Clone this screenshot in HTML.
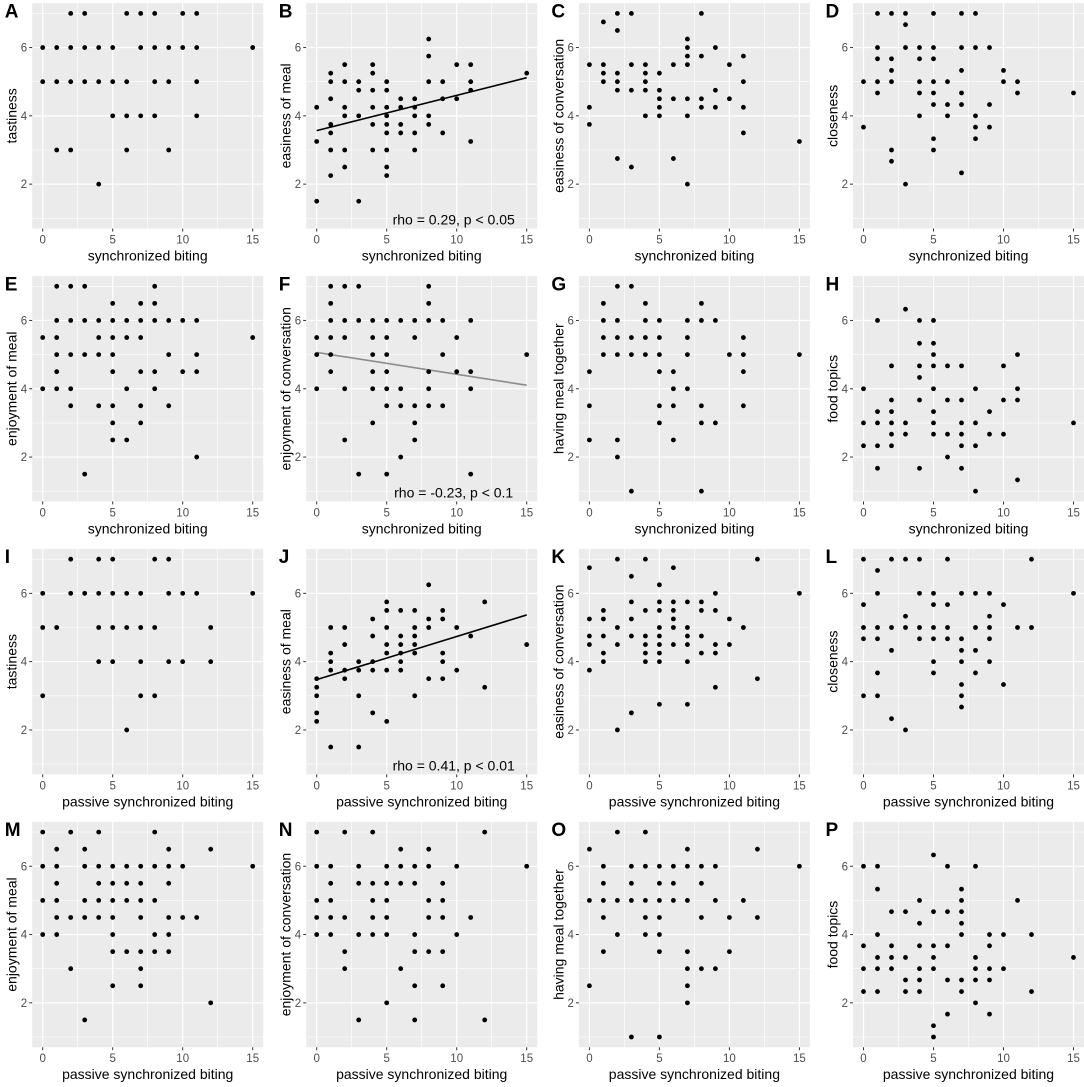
<!DOCTYPE html>
<html>
<head>
<meta charset="utf-8">
<style>
html,body{margin:0;padding:0;background:#fff;}
svg{display:block;font-family:"Liberation Sans",Arial,sans-serif;}
</style>
</head>
<body>
<svg id="fig" width="1084" height="1087" viewBox="0 0 1084 1087" xmlns="http://www.w3.org/2000/svg"></svg>
<script>
// ---- data (x value -> list of y values) ----
const panelA = [[0,[6,5]],[1,[6,5,3]],[2,[7,6,5,3]],[3,[7,6,5]],[4,[6,5,2]],[5,[6,5,4]],[6,[7,5,4,3]],[7,[7,6,4]],[8,[7,6,5,4]],[9,[6,5,3]],[10,[7,6]],[11,[7,6,5,4]],[15,[6]]];
const panelB = [[0,[4.25,3.25,1.5]],[1,[5.25,5,4.5,3.75,3.5,3,2.25]],[2,[5.5,5,4.25,4,3,2.5]],[3,[5,4.75,4,1.5]],[4,[5.5,5.25,4.75,4.25,3.75,3]],[5,[5,4.75,4.25,4,3.75,3.5,3,2.5,2.25]],[6,[4.5,4.25,3.75,3.5]],[7,[4.5,4.25,4,3.5,3]],[8,[6.25,5.75,5,4,3.75]],[9,[5,4.5,3.5]],[10,[5.5,4.5]],[11,[5.5,5,4.75,3.25]],[15,[5.25]]];
const panelC = [[0,[5.5,4.25,3.75]],[1,[6.75,5.5,5.25,5]],[2,[7,6.5,5.25,5,4.75,2.75]],[3,[7,5.5,4.75,2.5]],[4,[5.5,5.25,5,4.75,4]],[5,[5.25,4.75,4.5,4.25,4]],[6,[5.5,4.5,2.75]],[7,[6.25,6,5.75,5.5,4.5,4,2]],[8,[7,5.75,4.5,4.25]],[9,[6,4.75,4.25]],[10,[5.5,4.5]],[11,[5.75,5,4.25,3.5]],[15,[3.25]]];
const panelD = [[0,[5,3.67]],[1,[7,6,5.67,5,4.67]],[2,[7,5.67,5.33,5,3,2.67]],[3,[7,6.67,6,2]],[4,[6,5.67,5,4.67,4]],[5,[7,6,5.67,5,4.67,4.33,3.33,3]],[6,[5,4.33,4]],[7,[7,6,5.33,4.67,4.33,2.33]],[8,[7,6,4,3.67,3.33]],[9,[6,4.33,3.67]],[10,[5.33,5]],[11,[5,4.67]],[15,[4.67]]];
const panelE = [[0,[5.5,4]],[1,[7,6,5.5,5,4.5,4]],[2,[7,6,5,4,3.5]],[3,[7,6,5,1.5]],[4,[6,5.5,5,3.5]],[5,[6.5,6,5.5,5,4.5,3.5,3,2.5]],[6,[6,5.5,4,2.5]],[7,[6.5,6,5.5,4.5,3.5,3]],[8,[7,6.5,6,4.5,4]],[9,[6,5,3.5]],[10,[6,4.5]],[11,[6,5,4.5,2]],[15,[5.5]]];
const panelF = [[0,[5.5,5,4]],[1,[7,6.5,6,5.5,5,4.5]],[2,[7,6,5.5,4,2.5]],[3,[7,6,1.5]],[4,[6,5.5,5,4.5,4,3]],[5,[6,5.5,5,4.5,4,3.5,1.5]],[6,[6,4,3.5,2]],[7,[6,5.5,3.5,3,2.5]],[8,[7,6.5,6,4.5,4,3.5]],[9,[6,5,3.5]],[10,[5.5,4.5]],[11,[6,4.5,4,1.5]],[15,[5]]];
const panelG = [[0,[4.5,3.5,2.5]],[1,[6.5,6,5.5,5]],[2,[7,6,5.5,5,2.5,2]],[3,[7,5.5,5,1]],[4,[6.5,6,5.5,5]],[5,[6,5.5,5,4.5,3.5,3]],[6,[4.5,4,3.5,2.5]],[7,[6,5.5,5,4]],[8,[6.5,6,3.5,3,1]],[9,[6,3]],[10,[5]],[11,[5.5,5,4.5,3.5]],[15,[5]]];
const panelH = [[0,[4,3,2.33]],[1,[6,3.33,3,2.33,1.67]],[2,[4.67,3.67,3.33,3,2.67,2.33]],[3,[6.33,3,2.67]],[4,[6,5.33,4.67,4.33,3.67,1.67]],[5,[6,5.33,5,4.67,4,3.33,3,2.67]],[6,[4.67,3.67,2.67,2]],[7,[4.67,3.67,3,2.67,2.33,1.67]],[8,[4,3,2.33,1]],[9,[3.33,2.67]],[10,[4.67,3.67,2.67]],[11,[5,4,3.67,1.33]],[15,[3]]];
const panelI = [[0,[6,5,3]],[1,[5]],[2,[7,6]],[3,[6]],[4,[7,6,5,4]],[5,[7,6,5,4]],[6,[6,5,2]],[7,[6,5,4,3]],[8,[7,5,3]],[9,[7,6,4]],[10,[6,4]],[11,[6]],[12,[5,4]],[15,[6]]];
const panelJ = [[0,[3.5,3.25,3,2.5,2.25]],[1,[5,4.25,4,3.75,1.5]],[2,[5,4.5,3.75,3.5]],[3,[4,3.75,3,1.5]],[4,[5.25,4.75,4,3.75,2.5]],[5,[5.75,5.5,5,4.5,4.25,3.75,2.25]],[6,[5.5,4.75,4.5,4.25,4,3.75]],[7,[5.5,5,4.75,4.5,4.25,3]],[8,[6.25,5.25,5,3.5]],[9,[5.5,5.25,4.25,4,3.5]],[10,[5,3.75]],[11,[4.75]],[12,[5.75,3.25]],[15,[4.5]]];
const panelK = [[0,[6.75,5.25,4.75,4.5,3.75]],[1,[5.5,5.25,4.75,4.25,4]],[2,[7,5,4.5,2]],[3,[6.5,5.75,5.25,4.75,2.5]],[4,[7,5.5,4.75,4.5,4.25,4]],[5,[6.25,5.75,5.5,5,4.75,4.5,4.25,4,2.75]],[6,[6.75,5.75,5.5,5.25,5,4.5]],[7,[5.75,5,4.75,4.5,4,2.75]],[8,[5.75,5.5,4.75,4.25]],[9,[6,5.5,4.5,4.25,3.25]],[10,[5.25,4.5]],[11,[5]],[12,[7,3.5]],[15,[6]]];
const panelL = [[0,[7,5.67,5,4.67,3]],[1,[6.67,6,5,4.67,3.67,3]],[2,[7,5,4.33,2.33]],[3,[7,5.33,5,2]],[4,[7,6,5,4.67]],[5,[6,5.67,5,4.67,4,3.67]],[6,[7,5.67,5,4.67]],[7,[6,4.67,4.33,4,3.33,3,2.67]],[8,[6,5,4.33,3.67]],[9,[6,5.33,5,4.67,4]],[10,[5.67,3.33]],[11,[5]],[12,[7,5]],[15,[6]]];
const panelM = [[0,[7,6,5,4]],[1,[6.5,6,5.5,5,4.5,4]],[2,[7,4.5,3]],[3,[6.5,6,5,4.5,1.5]],[4,[7,6,5.5,5,4.5]],[5,[6,5.5,5,4.5,4,3.5,2.5]],[6,[6,5.5,5,3.5]],[7,[6,5.5,5,4.5,3.5,3,2.5]],[8,[7,6,5,4,3.5]],[9,[6.5,6,5.5,4.5,4,3.5]],[10,[6,4.5]],[11,[4.5]],[12,[6.5,2]],[15,[6]]];
const panelN = [[0,[7,6,5,4.5,4]],[1,[6,5.5,5,4.5,4]],[2,[7,4.5,3.5,3]],[3,[6,5.5,4,1.5]],[4,[7,5.5,5,4.5,4]],[5,[6,5.5,5,4.5,4,2]],[6,[6.5,6,5.5,3]],[7,[6,5.5,4,3.5,2.5,1.5]],[8,[6.5,6,5,4.5,3.5]],[9,[5.5,5,4.5,3.5,2.5]],[10,[6,4]],[11,[4.5]],[12,[7,1.5]],[15,[6]]];
const panelO = [[0,[6.5,5,2.5]],[1,[6,5.5,5,4.5,3.5]],[2,[7,5,4]],[3,[6,5.5,5,1]],[4,[7,6,5,4.5,4]],[5,[6,5.5,5,4.5,4,3.5,1]],[6,[6,5.5,5]],[7,[6.5,6,5,3.5,3,2.5,2]],[8,[6,5.5,4.5,3]],[9,[6,5,3]],[10,[4.5,3.5]],[11,[5]],[12,[6.5,4.5]],[15,[6]]];
const panelP = [[0,[6,3.67,3,2.33]],[1,[6,5.33,4,3.33,3,2.33]],[2,[4.67,3.67,3.33,3]],[3,[4.67,3.33,2.67,2.33]],[4,[5,4.33,3.67,3,2.67,2.33]],[5,[6.33,4.67,3.67,3.33,3,1.33,1]],[6,[6,4.67,3.67,2.67,1.67]],[7,[5.33,5,4.67,4.33,4,2.67,2.33]],[8,[6,3.33,3,2.67,2]],[9,[4,3.67,3,2.67,1.67]],[10,[4,3]],[11,[5]],[12,[4,2.33]],[15,[3.33]]];

const panelLetters = ["A","B","C","D","E","F","G","H","I","J","K","L","M","N","O","P"];
const yTitles = ["tastiness","easiness of meal","easiness of conversation","closeness","enjoyment of meal","enjoyment of conversation","having meal together","food topics","tastiness","easiness of meal","easiness of conversation","closeness","enjoyment of meal","enjoyment of conversation","having meal together","food topics"];
const xTitles = ["synchronized biting","synchronized biting","passive synchronized biting","passive synchronized biting"];
const xTicks = [0,5,10,15];
const yTicks = [2,4,6];
const rhoLabels = {1:"rho = 0.29, p < 0.05",5:"rho = -0.23, p < 0.1",9:"rho = 0.41, p < 0.01"};
const fitColors = {1:"#000000",5:"#8c8c8c",9:"#000000"};

const allPanels = [panelA,panelB,panelC,panelD,panelE,panelF,panelG,panelH,panelI,panelJ,panelK,panelL,panelM,panelN,panelO,panelP];

// ---- layout ----
const X0 = [42.7, 316.7, 589.4, 863.5];
const UX = 14.0, UY = 34.15, RSTEP = 272.9, Y7 = 13.4;
const NS = "http://www.w3.org/2000/svg";
const svg = document.getElementById("fig");
function sx(c, v){ return X0[c] + v*UX; }
function sy(r, v){ return Y7 + RSTEP*r + (7 - v)*UY; }
function mk(tag, attrs, parent){
  const e = document.createElementNS(NS, tag);
  for (const k in attrs) e.setAttribute(k, attrs[k]);
  (parent||svg).appendChild(e);
  return e;
}

allPanels.forEach(function(data, idx){
  const r = Math.floor(idx/4), c = idx%4;
  const g = mk("g", {});
  
  
  const left = sx(c,-0.75), right = sx(c,15.75), top = sy(r,7.3), bottom = sy(r,0.7);
  const bg = mk("rect", {x:left, y:top, width:right-left, height:bottom-top, fill:"#EBEBEB"}, g);
  
  
  // minor grid
  [2.5,7.5,12.5].forEach(function(v){
    const l = mk("line", {x1:sx(c,v), x2:sx(c,v), y1:top, y2:bottom, stroke:"#fff", "stroke-width":0.6}, g);
    
    
  });
  [1,3,5,7].forEach(function(v){
    const l = mk("line", {x1:left, x2:right, y1:sy(r,v), y2:sy(r,v), stroke:"#fff", "stroke-width":0.6}, g);
    
    
  });
  // major grid + ticks
  xTicks.forEach(function(v){
    const l = mk("line", {x1:sx(c,v), x2:sx(c,v), y1:top, y2:bottom, stroke:"#fff", "stroke-width":1.2}, g);
    
    
    const t = mk("line", {x1:sx(c,v), x2:sx(c,v), y1:bottom, y2:bottom+3, stroke:"#333", "stroke-width":1}, g);
    
    
    const tl = mk("text", {x:sx(c,v), y:bottom+15, "text-anchor":"middle", "font-size":"11.5", fill:"#4D4D4D"}, g);
    tl.textContent = v;
    
    
  });
  yTicks.forEach(function(v){
    const l = mk("line", {x1:left, x2:right, y1:sy(r,v), y2:sy(r,v), stroke:"#fff", "stroke-width":1.2}, g);
    
    
    const t = mk("line", {x1:left-3, x2:left, y1:sy(r,v), y2:sy(r,v), stroke:"#333", "stroke-width":1}, g);
    
    
    const tl = mk("text", {x:left-5, y:sy(r,v)+4, "text-anchor":"end", "font-size":"11.5", fill:"#4D4D4D"}, g);
    tl.textContent = v;
    
    
  });
  // regression
  if (fitColors[idx]) {
    let n=0, sxx=0, sxy=0, smx=0, smy=0;
    data.forEach(function(d){ d[1].forEach(function(y){ n++; smx+=d[0]; smy+=y; }); });
    const mx = smx/n, my = smy/n;
    data.forEach(function(d){ d[1].forEach(function(y){ sxx+=(d[0]-mx)*(d[0]-mx); sxy+=(d[0]-mx)*(y-my); }); });
    const b = sxy/sxx, a = my - b*mx;
    const fl = mk("line", {x1:sx(c,0), y1:sy(r,a), x2:sx(c,15), y2:sy(r,a+15*b), stroke:fitColors[idx], "stroke-width":1.6}, g);
    
    
  }
  // points
  data.forEach(function(d){
    d[1].forEach(function(y){
      const p = mk("circle", {cx:sx(c,d[0]), cy:sy(r,y), r:2.4, fill:"#000"}, g);
      
      
    });
  });
  if (rhoLabels[idx]) {
    const rt = mk("text", {x:X0[c]+137, y:bottom-4, "text-anchor":"middle", "font-size":"14", fill:"#000"}, g);
    rt.textContent = rhoLabels[idx];
    
    
  }
  // titles
  const xt = mk("text", {x:(left+right)/2, y:bottom+32, "text-anchor":"middle", "font-size":"14", fill:"#000"}, g);
  xt.textContent = xTitles[r];
  
  
  const ycx = X0[c]-31, ycy = (top+bottom)/2;
  const yt = mk("text", {x:ycx, y:ycy, "text-anchor":"middle", "dominant-baseline":"central", "font-size":"14", fill:"#000", transform:"rotate(-90 "+ycx+" "+ycy+")"}, g);
  yt.textContent = yTitles[idx];
  
  
  const lt = mk("text", {x:X0[c]-38, y:Y7+RSTEP*r+4, "font-size":"19", "font-weight":"bold", fill:"#000"}, g);
  lt.textContent = panelLetters[idx];
  
  
});
</script>
</body>
</html>
